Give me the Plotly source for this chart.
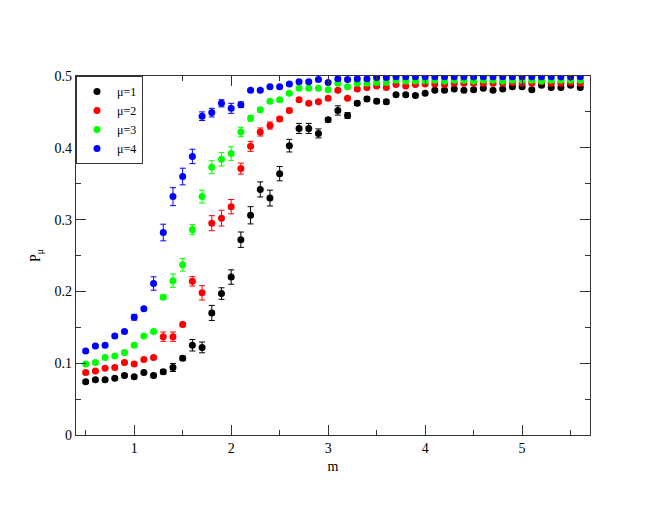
import plotly.graph_objects as go

m_values = [round(0.5 + 0.1 * i, 1) for i in range(52)]

p_mu1 = [0.074, 0.077, 0.077, 0.079, 0.083, 0.081, 0.087, 0.083, 0.088, 0.094,
         0.107, 0.125, 0.122, 0.170, 0.197, 0.220, 0.272, 0.306, 0.342, 0.330,
         0.364, 0.403, 0.427, 0.427, 0.420, 0.439, 0.452, 0.445, 0.462, 0.468,
         0.465, 0.464, 0.474, 0.474, 0.473, 0.476, 0.480, 0.480, 0.482, 0.480,
         0.481, 0.483, 0.480, 0.482, 0.485, 0.485, 0.481, 0.487, 0.484, 0.484,
         0.487, 0.484]
err_mu1 = [0.002, 0.002, 0.002, 0.002, 0.002, 0.002, 0.002, 0.002, 0.003, 0.0055,
           0.003, 0.008, 0.0075, 0.0105, 0.008, 0.010, 0.0107, 0.012, 0.0105, 0.011,
           0.010, 0.0088, 0.007, 0.007, 0.0063, 0.003, 0.0065, 0.004, 0.003, 0.003,
           0.003, 0.003, 0.002, 0.002, 0.002, 0.002, 0.002, 0.002, 0.002, 0.002,
           0.002, 0.002, 0.002, 0.002, 0.002, 0.002, 0.002, 0.002, 0.002, 0.002,
           0.002, 0.002]

p_mu2 = [0.087, 0.089, 0.093, 0.094, 0.101, 0.099, 0.105, 0.108, 0.137, 0.137,
         0.154, 0.214, 0.198, 0.295, 0.302, 0.318, 0.371, 0.402, 0.422, 0.431,
         0.440, 0.452, 0.467, 0.462, 0.464, 0.469, 0.480, 0.469, 0.482, 0.484,
         0.486, 0.484, 0.488, 0.486, 0.488, 0.489, 0.489, 0.488, 0.490, 0.490,
         0.490, 0.490, 0.490, 0.490, 0.491, 0.490, 0.490, 0.492, 0.490, 0.490,
         0.491, 0.490]
err_mu2 = [0.002, 0.002, 0.002, 0.002, 0.002, 0.002, 0.002, 0.002, 0.0065, 0.0065,
           0.003, 0.0065, 0.010, 0.0105, 0.011, 0.010, 0.0077, 0.007, 0.0056, 0.005,
           0.003, 0.003, 0.002, 0.002, 0.002, 0.002, 0.002, 0.002, 0.002, 0.002,
           0.002, 0.002, 0.002, 0.002, 0.002, 0.002, 0.002, 0.002, 0.002, 0.002,
           0.002, 0.002, 0.002, 0.002, 0.002, 0.002, 0.002, 0.002, 0.002, 0.002,
           0.002, 0.002]

p_mu3 = [0.099, 0.101, 0.108, 0.110, 0.115, 0.125, 0.138, 0.144, 0.192, 0.215,
         0.237, 0.286, 0.332, 0.373, 0.384, 0.392, 0.422, 0.441, 0.453, 0.465,
         0.467, 0.476, 0.483, 0.483, 0.483, 0.481, 0.490, 0.485, 0.490, 0.490,
         0.491, 0.491, 0.494, 0.493, 0.493, 0.493, 0.494, 0.493, 0.494, 0.494,
         0.493, 0.494, 0.494, 0.493, 0.494, 0.494, 0.494, 0.493, 0.494, 0.494,
         0.494, 0.494]
err_mu3 = [0.002, 0.002, 0.002, 0.002, 0.002, 0.002, 0.002, 0.002, 0.003, 0.0093,
           0.0087, 0.007, 0.009, 0.009, 0.0093, 0.0095, 0.0065, 0.004, 0.003, 0.002,
           0.002, 0.002, 0.002, 0.002, 0.002, 0.002, 0.002, 0.002, 0.002, 0.002,
           0.002, 0.002, 0.002, 0.002, 0.002, 0.002, 0.002, 0.002, 0.002, 0.002,
           0.002, 0.002, 0.002, 0.002, 0.002, 0.002, 0.002, 0.002, 0.002, 0.002,
           0.002, 0.002]

p_mu4 = [0.117, 0.124, 0.125, 0.138, 0.144, 0.164, 0.176, 0.211, 0.282, 0.332,
         0.360, 0.388, 0.444, 0.449, 0.462, 0.455, 0.460, 0.480, 0.480, 0.485,
         0.485, 0.489, 0.492, 0.492, 0.495, 0.491, 0.496, 0.495, 0.496, 0.496,
         0.498, 0.498, 0.499, 0.499, 0.499, 0.499, 0.499, 0.499, 0.499, 0.499,
         0.499, 0.499, 0.499, 0.499, 0.499, 0.499, 0.499, 0.499, 0.499, 0.499,
         0.499, 0.499]
err_mu4 = [0.002, 0.002, 0.002, 0.002, 0.002, 0.004, 0.002, 0.0093, 0.0116, 0.0125,
           0.0116, 0.010, 0.006, 0.006, 0.005, 0.007, 0.004, 0.002, 0.002, 0.002,
           0.002, 0.002, 0.002, 0.002, 0.002, 0.002, 0.002, 0.002, 0.002, 0.002,
           0.002, 0.002, 0.002, 0.002, 0.002, 0.002, 0.002, 0.002, 0.002, 0.002,
           0.002, 0.002, 0.002, 0.002, 0.002, 0.002, 0.002, 0.002, 0.002, 0.002,
           0.002, 0.002]

series_names = ["μ=1", "μ=2", "μ=3", "μ=4"]
series_values = [p_mu1, p_mu2, p_mu3, p_mu4]
series_errors = [err_mu1, err_mu2, err_mu3, err_mu4]
series_colors = ["#000000", "#ff0000", "#00ff00", "#0000ff"]

x_tick_vals = [1, 2, 3, 4, 5]
x_tick_text = ["1", "2", "3", "4", "5"]
y_tick_vals = [0, 0.1, 0.2, 0.3, 0.4, 0.5]
y_tick_text = ["0", "0.1", "0.2", "0.3", "0.4", "0.5"]

FONT = "Times New Roman"

fig = go.Figure()
for name, vals, errs, col in zip(series_names, series_values, series_errors, series_colors):
    fig.add_trace(go.Scatter(
        x=m_values, y=vals, mode="markers", name=name,
        marker=dict(color=col, size=7, symbol="circle", line=dict(width=0)),
        error_y=dict(type="data", array=errs, visible=True, color=col,
                     thickness=1, width=3),
    ))

axis_common = dict(
    showline=True, linecolor="#333333", linewidth=1.2, mirror="ticks",
    ticks="inside", ticklen=10, tickwidth=1.2, tickcolor="#333333",
    showgrid=False, zeroline=False,
    tickfont=dict(family=FONT, size=14, color="black"),
)

fig.update_layout(
    width=664, height=513,
    margin=dict(l=68, r=82, t=68, b=86),
    paper_bgcolor="white", plot_bgcolor="white",
    font=dict(family=FONT, size=14, color="black"),
    showlegend=True,
    legend=dict(
        x=0, y=1, xanchor="left", yanchor="top",
        bgcolor="white", bordercolor="#333333", borderwidth=1,
        font=dict(family=FONT, size=12, color="black"),
        tracegroupgap=0, itemwidth=30,
    ),
    xaxis=dict(
        range=[0.4, 5.7],
        tickvals=x_tick_vals, ticktext=x_tick_text,
        minor=dict(ticks="inside", ticklen=5, dtick=0.5, tick0=0,
                   tickcolor="#333333", tickwidth=1.2, showgrid=False),
        title=dict(text="m", font=dict(family=FONT, size=14), standoff=6),
        **axis_common,
    ),
    yaxis=dict(
        range=[0, 0.5],
        tickvals=y_tick_vals, ticktext=y_tick_text,
        minor=dict(ticks="inside", ticklen=5, dtick=0.05, tick0=0,
                   tickcolor="#333333", tickwidth=1.2, showgrid=False),
        title=dict(text="P<sub>μ</sub>", font=dict(family=FONT, size=14), standoff=10),
        **axis_common,
    ),
)

fig.write_html("out.html")
